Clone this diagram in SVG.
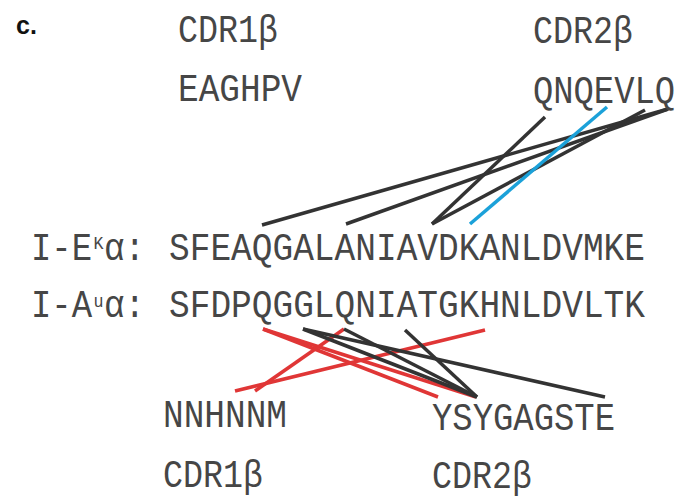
<svg xmlns="http://www.w3.org/2000/svg" width="683" height="499" viewBox="0 0 683 499">
<style>
.t{font-family:"Liberation Mono","DejaVu Sans Mono",monospace;font-size:39px;fill:#464646}
.sup{font-family:"Liberation Mono","DejaVu Sans Mono",monospace;font-size:18px;fill:#464646}
.lbl{font-family:"Liberation Sans",Arial,sans-serif;font-size:25px;font-weight:bold;fill:#111}
.k{stroke:#333;stroke-width:3.5;fill:none}
.r{stroke:#e03636;stroke-width:3.5;fill:none}
.b{stroke:#1ba1d9;stroke-width:3.5;fill:none}
</style>
<rect width="683" height="499" fill="#fff"/>
<g id="panel-label"><text class="lbl" x="16" y="34">c.</text></g>
<g id="connectors">
  <line class="k" x1="262" y1="225" x2="668" y2="109"/>
  <line class="k" x1="346" y1="224" x2="668" y2="109"/>
  <line class="k" x1="432" y1="224" x2="545" y2="117"/>
  <line class="k" x1="432" y1="224" x2="645" y2="110"/>
  <line class="b" x1="470" y1="224" x2="607" y2="107"/>
  <line class="r" x1="263" y1="329" x2="438" y2="397"/>
  <line class="r" x1="263" y1="329" x2="476" y2="397"/>
  <line class="r" x1="344" y1="329" x2="255" y2="391"/>
  <line class="r" x1="485" y1="330" x2="235" y2="391"/>
  <line class="k" x1="303" y1="329" x2="477" y2="397"/>
  <line class="k" x1="303" y1="329" x2="605" y2="397"/>
  <line class="k" x1="344" y1="329" x2="477" y2="397"/>
  <line class="k" x1="405" y1="330" x2="477" y2="397"/>
</g>
<g id="cdr1b-top">
  <text class="t" x="178" y="42" textLength="100" lengthAdjust="spacingAndGlyphs">CDR1β</text>
  <text class="t" x="178" y="101" textLength="124" lengthAdjust="spacingAndGlyphs">EAGHPV</text>
</g>
<g id="cdr2b-top">
  <text class="t" x="533" y="43" textLength="100" lengthAdjust="spacingAndGlyphs">CDR2β</text>
  <text class="t" x="533" y="103" textLength="142" lengthAdjust="spacingAndGlyphs">QNQEVLQ</text>
</g>
<g id="iek-alpha">
  <text class="t" x="31" y="260" textLength="61" lengthAdjust="spacingAndGlyphs">I-E</text>
  <text class="sup" x="93.5" y="249" textLength="10" lengthAdjust="spacingAndGlyphs">K</text>
  <text class="t" x="104" y="260" textLength="41" lengthAdjust="spacingAndGlyphs">α:</text>
  <text class="t" x="169" y="260" textLength="476" lengthAdjust="spacingAndGlyphs">SFEAQGALANIAVDKANLDVMKE</text>
</g>
<g id="iau-alpha">
  <text class="t" x="31" y="317" textLength="61" lengthAdjust="spacingAndGlyphs">I-A</text>
  <text class="sup" x="93.5" y="307" textLength="10" lengthAdjust="spacingAndGlyphs">u</text>
  <text class="t" x="104" y="317" textLength="41" lengthAdjust="spacingAndGlyphs">α:</text>
  <text class="t" x="169" y="317" textLength="476" lengthAdjust="spacingAndGlyphs">SFDPQGGLQNIATGKHNLDVLTK</text>
</g>
<g id="cdr1b-bottom">
  <text class="t" x="163" y="427" textLength="124" lengthAdjust="spacingAndGlyphs">NNHNNM</text>
  <text class="t" x="163" y="487" textLength="100" lengthAdjust="spacingAndGlyphs">CDR1β</text>
</g>
<g id="cdr2b-bottom">
  <text class="t" x="432" y="430" textLength="183" lengthAdjust="spacingAndGlyphs">YSYGAGSTE</text>
  <text class="t" x="432" y="488" textLength="100" lengthAdjust="spacingAndGlyphs">CDR2β</text>
</g>
</svg>
